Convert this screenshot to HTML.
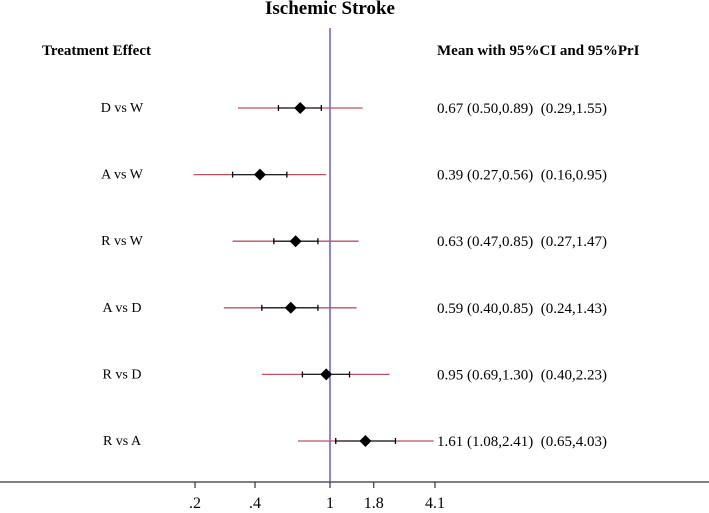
<!DOCTYPE html>
<html><head><meta charset="utf-8"><style>
body{margin:0;background:#fff}
svg{display:block;font-family:"Liberation Serif",serif}
</style></head><body>
<svg id="c" width="709" height="513">
<text x="330" y="14" text-anchor="middle" font-weight="bold" font-size="19">Ischemic Stroke</text>
<text x="42" y="55" font-weight="bold" font-size="15">Treatment Effect</text>
<text x="437" y="55" font-weight="bold" font-size="15">Mean with 95%CI and 95%PrI</text>
<line x1="0" y1="482" x2="709" y2="482" stroke="#333" stroke-width="1.3"/>
<line x1="330" y1="28" x2="330" y2="482" stroke="#6a5acd" stroke-width="1.5"/>
<g id="rows"></g><g id="ticks"></g>
</svg>
<script>
const labels=["D vs W","A vs W","R vs W","A vs D","R vs D","R vs A"];
const means=[0.67,0.39,0.63,0.59,0.95,1.61];
const ciLo=[0.50,0.27,0.47,0.40,0.69,1.08];
const ciHi=[0.89,0.56,0.85,0.85,1.30,2.41];
const prLo=[0.29,0.16,0.27,0.24,0.40,0.65];
const prHi=[1.55,0.95,1.47,1.43,2.23,4.03];
const tickVals=[0.163,0.365,1,1.8,4.1];
const tickLabels=[".2",".4","1","1.8","4.1"];
const NS="http://www.w3.org/2000/svg";
const x=v=>330+Math.log(v)*74.4;
const y=i=>108+i*66.6;
function mk(p,t,a){const e=document.createElementNS(NS,t);for(const k in a)e.setAttribute(k,a[k]);p.appendChild(e);return e;}
const rows=document.getElementById('rows');
const f=v=>v.toFixed(2);
labels.forEach((l,i)=>{
  const g=mk(rows,'g',{});
  
  
  const yy=y(i);
  const t=mk(g,'text',{x:122,y:yy+4,'font-size':14,'text-anchor':'middle'});t.textContent=l;
  
  
  const pr=mk(g,'line',{x1:x(prLo[i]),x2:x(prHi[i]),y1:yy,y2:yy,stroke:'#c0505f','stroke-width':1.3});
  
  
  const ci=mk(g,'line',{x1:x(ciLo[i]),x2:x(ciHi[i]),y1:yy,y2:yy,stroke:'#222','stroke-width':1.3});
  
  
  [ciLo[i],ciHi[i]].forEach(v=>{const c=mk(g,'line',{x1:x(v),x2:x(v),y1:yy-3,y2:yy+3,stroke:'#000','stroke-width':1.3});
    
    });
  const m=x(means[i]);
  const d=mk(g,'polygon',{points:`${m},${yy-6} ${m+6},${yy} ${m},${yy+6} ${m-6},${yy}`,fill:'#000'});
  
  
  const v=mk(g,'text',{x:437,y:yy+5,'font-size':15});
  v.textContent=`${f(means[i])} (${f(ciLo[i])},${f(ciHi[i])})  (${f(prLo[i])},${f(prHi[i])})`;
  v.style.whiteSpace='pre';
  
  
});
const tk=document.getElementById('ticks');
tickVals.forEach((v,i)=>{
  const l=mk(tk,'line',{x1:x(v),x2:x(v),y1:482,y2:488,stroke:'#333','stroke-width':1.2});
  
  
  const t=mk(tk,'text',{x:x(v),y:508,'font-size':16,'text-anchor':'middle'});t.textContent=tickLabels[i];
  
  
});
</script>
</body></html>
